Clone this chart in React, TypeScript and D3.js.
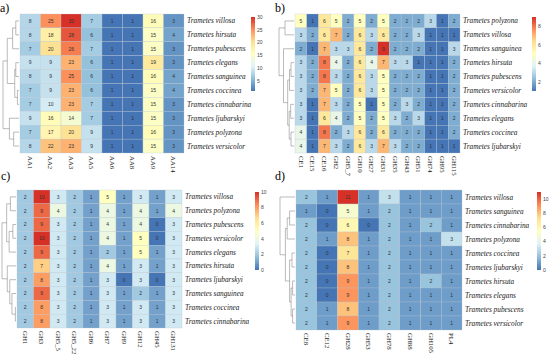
import React, { useEffect, useRef } from 'react';
import * as d3 from 'd3';

type Tree = string | [Tree, Tree, number];

// ---- panel a) AA families ----
const aCols = ["AA1", "AA2", "AA3", "AA5", "AA6", "AA8", "AA9", "AA14"];
const aRows = ["villosa", "hirsuta", "pubescens", "elegans", "sanguinea", "coccinea", "cinnabarina", "ljubarskyi", "polyzona", "versicolor"];
const aValues = [
    [8, 25, 30, 7, 1, 1, 16, 3],
    [8, 18, 28, 6, 1, 1, 15, 4],
    [7, 20, 26, 7, 1, 1, 15, 3],
    [9, 9, 23, 6, 1, 1, 19, 3],
    [8, 9, 25, 6, 1, 1, 16, 4],
    [7, 9, 23, 6, 1, 1, 15, 4],
    [7, 10, 23, 7, 1, 1, 15, 3],
    [9, 16, 14, 7, 1, 1, 15, 3],
    [7, 17, 20, 9, 1, 1, 16, 3],
    [8, 22, 23, 9, 1, 1, 15, 3],
];
const aTicks = [5, 10, 15, 20, 25, 30];
const aTree: Tree = [
    [[["villosa", "hirsuta", 3], "pubescens", 6],
     [["elegans", "sanguinea", 3], ["coccinea", "cinnabarina", 1.5], 4], 11],
    ["ljubarskyi", ["polyzona", "versicolor", 5], 9], 15];

// ---- panel b) CE / GH families ----
const bCols = ["CE1", "CE15", "CE16", "GH2", "GH5_7", "GH10", "GH27", "GH31", "GH35", "GH43", "GH51", "GH74", "GH95", "GH115"];
const bRows = ["polyzona", "villosa", "sanguinea", "hirsuta", "pubescens", "versicolor", "cinnabarina", "elegans", "coccinea", "ljubarskyi"];
const bValues = [
    [5, 1, 6, 5, 2, 5, 2, 5, 2, 2, 2, 3, 1, 2],
    [3, 2, 6, 7, 2, 6, 3, 6, 2, 2, 3, 1, 1, 1],
    [2, 1, 7, 3, 3, 6, 2, 9, 2, 2, 2, 1, 1, 3],
    [3, 2, 8, 4, 2, 6, 4, 7, 3, 3, 1, 1, 1, 2],
    [3, 2, 8, 3, 2, 6, 3, 5, 2, 2, 2, 1, 1, 2],
    [3, 2, 7, 5, 2, 6, 3, 5, 2, 2, 2, 1, 1, 2],
    [3, 1, 7, 3, 2, 5, 1, 5, 2, 3, 2, 1, 1, 2],
    [3, 1, 6, 4, 2, 5, 2, 5, 3, 2, 3, 1, 1, 2],
    [4, 1, 8, 2, 3, 6, 2, 6, 2, 2, 2, 1, 1, 2],
    [4, 1, 7, 3, 2, 6, 3, 7, 3, 2, 2, 1, 1, 1],
];
const bTicks = [2, 4, 6, 8];
const bTree: Tree = [
    ["polyzona", "villosa", 6],
    ["sanguinea",
        [[["hirsuta", "pubescens", 2], "versicolor", 3],
         [["cinnabarina", "elegans", 2.2], ["coccinea", "ljubarskyi", 2], 3.2], 4.2], 7], 10];

// ---- panel c) GH families ----
const cCols = ["GH1", "GH3", "GH5_5", "GH5_22", "GH6", "GH7", "GH9", "GH12", "GH45", "GH131"];
const cRows = ["villosa", "polyzona", "pubescens", "versicolor", "elegans", "hirsuta", "ljubarskyi", "sanguinea", "coccinea", "cinnabarina"];
const cValues = [
    [2, 10, 3, 2, 1, 5, 1, 3, 1, 3],
    [2, 9, 4, 2, 1, 4, 1, 4, 1, 4],
    [2, 9, 3, 2, 1, 4, 1, 4, 0, 3],
    [2, 10, 3, 2, 1, 4, 1, 5, 0, 3],
    [2, 9, 3, 2, 1, 2, 1, 5, 1, 3],
    [2, 7, 3, 2, 1, 4, 1, 3, 1, 3],
    [2, 8, 3, 2, 1, 3, 0, 3, 0, 3],
    [2, 9, 3, 2, 1, 3, 1, 2, 1, 3],
    [2, 8, 3, 2, 1, 3, 1, 3, 1, 3],
    [2, 8, 3, 2, 1, 3, 1, 3, 1, 3],
];
const cTicks = [0, 2, 4, 6, 8, 10];
const cTree: Tree = [
    [["villosa", "polyzona", 1.8], [["pubescens", "versicolor", 1], "elegans", 2.2], 3],
    ["hirsuta", ["ljubarskyi", ["sanguinea", ["coccinea", "cinnabarina", 0.2], 1.3], 2], 2.8], 4.5];

// ---- panel d) CE / GH / PL families ----
const dCols = ["CE8", "CE12", "GH28", "GH53", "GH78", "GH88", "GH105", "PL4"];
const dRows = ["villosa", "sanguinea", "cinnabarina", "polyzona", "coccinea", "ljubarskyi", "hirsuta", "elegans", "pubescens", "versicolor"];
const dValues = [
    [2, 1, 11, 1, 3, 1, 1, 1],
    [1, 0, 5, 1, 2, 1, 1, 1],
    [2, 0, 6, 0, 2, 1, 2, 1],
    [2, 1, 8, 1, 2, 1, 1, 3],
    [2, 0, 7, 1, 2, 1, 1, 1],
    [2, 0, 8, 1, 2, 1, 1, 1],
    [2, 0, 9, 1, 2, 1, 2, 1],
    [2, 0, 9, 1, 2, 1, 1, 1],
    [2, 1, 8, 1, 2, 1, 1, 1],
    [2, 1, 9, 1, 2, 1, 1, 1],
];
const dTicks = [0, 2, 4, 6, 8, 10];
const dTree: Tree = [
    "villosa",
    [[["sanguinea", "cinnabarina", 1.8], "polyzona", 2.6],
     [["coccinea", "ljubarskyi", 1], [["hirsuta", "elegans", 0.8], ["pubescens", "versicolor", 0.8], 1.3], 1.8], 3.2], 5];

// reversed RdYlBu (pheatmap default)
const palette = ["#4575b4", "#91bfdb", "#e0f3f8", "#ffffbf", "#fee090", "#fc8d59", "#d73027"];

interface Panel {
    tag: string;
    rows: string[];
    cols: string[];
    values: number[][];
    ticks: number[];
    tree: Tree;
    box: { x: number; y: number; w: number; h: number; dendroX: number; legX: number; legY: number; legH: number; tagX: number; tagY: number };
}

const panels: Panel[] = [
    { tag: "a)", rows: aRows, cols: aCols, values: aValues, ticks: aTicks, tree: aTree,
      box: { x: 20, y: 14, w: 164, h: 139, dendroX: 3, legX: 251, legY: 17, legH: 74, tagX: 0, tagY: 12 } },
    { tag: "b)", rows: bRows, cols: bCols, values: bValues, ticks: bTicks, tree: bTree,
      box: { x: 295, y: 14, w: 165, h: 139, dendroX: 279, legX: 532, legY: 17, legH: 74, tagX: 275, tagY: 12 } },
    { tag: "c)", rows: cRows, cols: cCols, values: cValues, ticks: cTicks, tree: cTree,
      box: { x: 17, y: 190, w: 165, h: 138, dendroX: 2, legX: 255, legY: 192, legH: 78, tagX: 1, tagY: 180 } },
    { tag: "d)", rows: dRows, cols: dCols, values: dValues, ticks: dTicks, tree: dTree,
      box: { x: 296, y: 190, w: 166, h: 140, dendroX: 280, legX: 537, legY: 192, legH: 78, tagX: 275, tagY: 180 } },
];

const App: React.FC = () => {
    const svgRef = useRef<SVGSVGElement>(null);

    useEffect(() => {
        if (!svgRef.current) return;
        const svg = d3.select(svgRef.current);
        svg.selectAll("*").remove();

        panels.forEach(p => {
            const b = p.box;
            const g = svg.append("g");
            const flat = p.values.flat();
            const lo = d3.min(flat) as number;
            const hi = d3.max(flat) as number;
            const color = d3.scaleLinear<string>()
                .domain(palette.map((_, i) => lo + (hi - lo) * i / (palette.length - 1)))
                .range(palette)
                .interpolate(d3.interpolateRgb);

            const xs = d3.scaleBand().domain(p.cols).range([b.x, b.x + b.w]);
            const ys = d3.scaleBand().domain(p.rows).range([b.y, b.y + b.h]);

            // tag
            g.append("text")
                .attr("x", b.tagX).attr("y", b.tagY)
                .attr("font-family", "Liberation Serif")
                .attr("font-size", 12)
                .text(p.tag);

            // cells
            p.rows.forEach((r, i) => {
                p.cols.forEach((c, j) => {
                    const v = p.values[i][j];
                    g.append("rect")
                        .attr("x", xs(c)!).attr("y", ys(r)!)
                        .attr("width", xs.bandwidth()).attr("height", ys.bandwidth())
                        .attr("fill", color(v))
                        .attr("stroke", "#b8c4cc").attr("stroke-width", 0.3);
                    g.append("text")
                        .attr("x", xs(c)! + xs.bandwidth() / 2)
                        .attr("y", ys(r)! + ys.bandwidth() / 2 + 1.8)
                        .attr("text-anchor", "middle")
                        .attr("font-family", "Liberation Sans")
                        .attr("font-size", 5)
                        .attr("fill", "#333")
                        .text(v);
                });
            });

            // row labels
            p.rows.forEach(r => {
                g.append("text")
                    .attr("x", b.x + b.w + 3)
                    .attr("y", ys(r)! + ys.bandwidth() / 2 + 2.5)
                    .attr("font-family", "Liberation Serif")
                    .attr("font-style", "italic")
                    .attr("font-size", 7.3)
                    .attr("fill", "#222")
                    .text(`Trametes ${r}`);
            });

            // column labels, rotated
            p.cols.forEach(c => {
                const cx = xs(c)! + xs.bandwidth() / 2 - 2.3;
                const cy = b.y + b.h + 3;
                g.append("text")
                    .attr("transform", `translate(${cx},${cy}) rotate(90)`)
                    .attr("font-family", "Liberation Serif")
                    .attr("font-size", 6.8)
                    .attr("fill", "#222")
                    .text(c);
            });

            // dendrogram
            const heights: number[] = [];
            const collect = (t: Tree) => { if (typeof t !== "string") { heights.push(t[2]); collect(t[0]); collect(t[1]); } };
            collect(p.tree);
            const hx = d3.scaleLinear().domain([0, d3.max(heights) as number]).range([b.x - 1, b.dendroX]);
            const walk = (t: Tree): { y: number; h: number } => {
                if (typeof t === "string") return { y: ys(t)! + ys.bandwidth() / 2, h: 0 };
                const l = walk(t[0]);
                const r = walk(t[1]);
                const x = hx(t[2]);
                const path = `M${hx(l.h)},${l.y}H${x}V${r.y}H${hx(r.h)}`;
                g.append("path").attr("d", path)
                    .attr("fill", "none").attr("stroke", "#777").attr("stroke-width", 0.5);
                return { y: (l.y + r.y) / 2, h: t[2] };
            };
            walk(p.tree);

            // colour legend
            const ly = d3.scaleLinear().domain([lo, hi]).range([b.legY + b.legH, b.legY]);
            const gradId = `grad-${p.tag[0]}`;
            const grad = svg.append("defs").append("linearGradient")
                .attr("id", gradId).attr("x1", 0).attr("y1", 1).attr("x2", 0).attr("y2", 0);
            palette.forEach((col, i) => {
                grad.append("stop").attr("offset", i / (palette.length - 1)).attr("stop-color", col);
            });
            g.append("rect")
                .attr("x", b.legX).attr("y", b.legY)
                .attr("width", 4).attr("height", b.legH)
                .attr("fill", `url(#${gradId})`);
            p.ticks.forEach(t => {
                g.append("text")
                    .attr("x", b.legX + 6).attr("y", ly(t) + 1.8)
                    .attr("font-family", "Liberation Sans")
                    .attr("font-size", 5)
                    .attr("fill", "#444")
                    .text(t);
            });
        });
    }, []);

    return (
        <svg ref={svgRef} width={550} height={358}
            style={{ position: 'absolute', left: 0, top: 0, background: '#fff' }} />
    );
};

export default App;
